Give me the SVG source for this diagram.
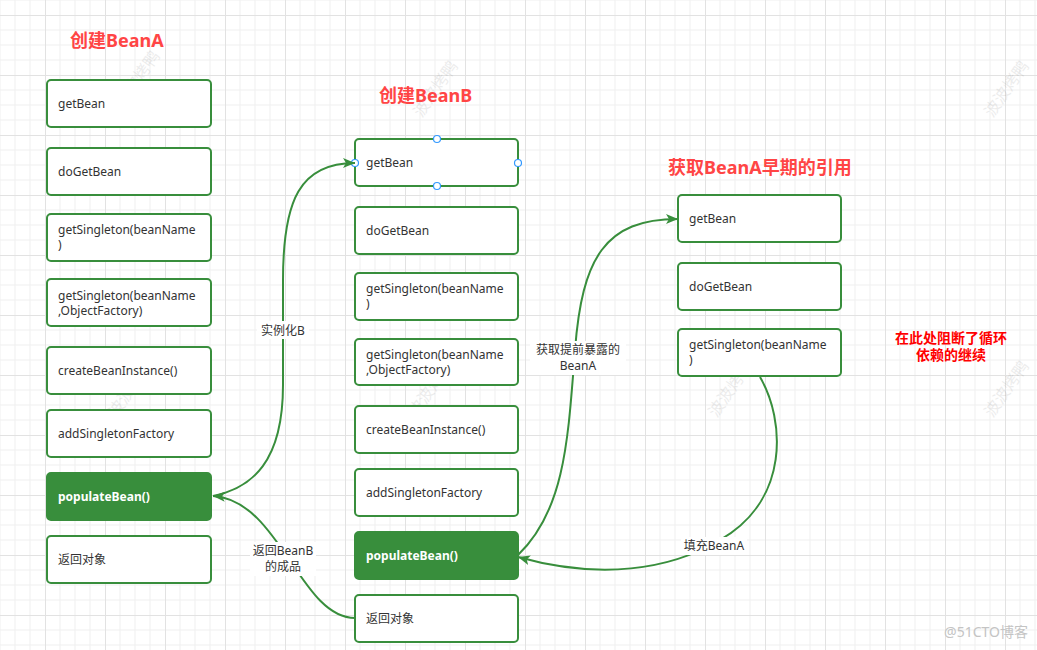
<svg xmlns="http://www.w3.org/2000/svg" width="1037" height="650" viewBox="0 0 1037 650">
<defs>
<pattern id="grid" x="45" y="15" width="60" height="60" patternUnits="userSpaceOnUse">
<path d="M15 0V60M30 0V60M45 0V60M0 15H60M0 30H60M0 45H60" stroke="#efefef" stroke-width="1" fill="none"/>
<path d="M0.5 0V60M0 0.5H60" stroke="#e2e2e2" stroke-width="1" fill="none"/>
</pattern>
<marker id="arr" markerUnits="userSpaceOnUse" markerWidth="14" markerHeight="12" refX="12" refY="5" orient="auto">
<path d="M0,0 L12,5 L0,10 L3,5 Z" fill="#388E3C"/>
</marker>
</defs>
<style>
.box{fill:#fff;stroke:#388E3C;stroke-width:2}
.fill{fill:#388E3C;stroke:#388E3C;stroke-width:2}
.t{font-family:"Noto Sans","Noto Sans CJK SC",sans-serif;font-size:12px;fill:#333}
.tw{font-family:"Noto Sans","Noto Sans CJK SC",sans-serif;font-size:12px;fill:#fff;font-weight:bold}
.title{font-family:"Noto Sans","Noto Sans CJK SC",sans-serif;font-size:18px;font-weight:bold;fill:#ff4545}
.note{font-family:"Noto Sans","Noto Sans CJK SC",sans-serif;font-size:14px;font-weight:bold;fill:#ff0000;text-anchor:middle}
.lbl{font-family:"Noto Sans","Noto Sans CJK SC",sans-serif;font-size:12px;fill:#333;text-anchor:middle}
.edge{fill:none;stroke:#388E3C;stroke-width:2}
.wm{font-family:"Noto Sans CJK SC",sans-serif;font-size:16px;fill:#000;opacity:0.07;text-anchor:middle}
.h{fill:#fff;stroke:#3399ff;stroke-width:1.2}
</style>
<rect width="1037" height="650" fill="#fff"/>
<rect width="1037" height="650" fill="url(#grid)"/>

<g id="watermarks">
<text class="wm" transform="translate(142,82) rotate(-55)">波波烤鸭</text>
<text class="wm" transform="translate(440,92) rotate(-55)">波波烤鸭</text>
<text class="wm" transform="translate(1011,92) rotate(-55)">波波烤鸭</text>
<text class="wm" transform="translate(135,392) rotate(-55)">波波烤鸭</text>
<text class="wm" transform="translate(435,392) rotate(-55)">波波烤鸭</text>
<text class="wm" transform="translate(735,392) rotate(-55)">波波烤鸭</text>
<text class="wm" transform="translate(1011,392) rotate(-55)">波波烤鸭</text>
</g>

<g id="titles">
<text class="title" x="70" y="47">创建BeanA</text>
<text class="title" x="379" y="102">创建BeanB</text>
<text class="title" x="668" y="174">获取BeanA早期的引用</text>
</g>

<g id="note">
<text class="note" x="951" y="343">在此处阻断了循环</text>
<text class="note" x="951" y="360">依赖的继续</text>
</g>

<g id="a-getBean"><rect class="box" x="47" y="80" width="164" height="47" rx="4"/><text class="t" x="58" y="108">getBean</text></g>
<g id="a-doGetBean"><rect class="box" x="47" y="148" width="164" height="47" rx="4"/><text class="t" x="58" y="176">doGetBean</text></g>
<g id="a-getSingleton1"><rect class="box" x="47" y="214" width="164" height="47" rx="4"/><text class="t" x="58" y="234">getSingleton(beanName</text><text class="t" x="58" y="249">)</text></g>
<g id="a-getSingleton2"><rect class="box" x="47" y="279" width="164" height="47" rx="4"/><text class="t" x="58" y="300">getSingleton(beanName</text><text class="t" x="58" y="315">,ObjectFactory)</text></g>
<g id="a-createBeanInstance"><rect class="box" x="47" y="347" width="164" height="47" rx="4"/><text class="t" x="58" y="375">createBeanInstance()</text></g>
<g id="a-addSingletonFactory"><rect class="box" x="47" y="410" width="164" height="47" rx="4"/><text class="t" x="58" y="438">addSingletonFactory</text></g>
<g id="a-populateBean"><rect class="fill" x="47" y="473" width="164" height="47" rx="4"/><text class="tw" x="58" y="501">populateBean()</text></g>
<g id="a-return"><rect class="box" x="47" y="536" width="164" height="47" rx="4"/><text class="t" x="58" y="564">返回对象</text></g>

<g id="b-getBean"><rect class="box" x="355" y="139" width="163" height="47" rx="4"/><text class="t" x="366" y="167">getBean</text>
<circle class="h" cx="437" cy="139" r="3.5"/><circle class="h" cx="437" cy="186" r="3.5"/><circle class="h" cx="355" cy="163" r="3.5"/><circle class="h" cx="518" cy="163" r="3.5"/></g>
<g id="b-doGetBean"><rect class="box" x="355" y="207" width="163" height="47" rx="4"/><text class="t" x="366" y="235">doGetBean</text></g>
<g id="b-getSingleton1"><rect class="box" x="355" y="273" width="163" height="47" rx="4"/><text class="t" x="366" y="293">getSingleton(beanName</text><text class="t" x="366" y="308">)</text></g>
<g id="b-getSingleton2"><rect class="box" x="355" y="339" width="163" height="46" rx="4"/><text class="t" x="366" y="359">getSingleton(beanName</text><text class="t" x="366" y="374">,ObjectFactory)</text></g>
<g id="b-createBeanInstance"><rect class="box" x="355" y="406" width="163" height="47" rx="4"/><text class="t" x="366" y="434">createBeanInstance()</text></g>
<g id="b-addSingletonFactory"><rect class="box" x="355" y="469" width="163" height="47" rx="4"/><text class="t" x="366" y="497">addSingletonFactory</text></g>
<g id="b-populateBean"><rect class="fill" x="355" y="532" width="163" height="47" rx="4"/><text class="tw" x="366" y="560">populateBean()</text></g>
<g id="b-return"><rect class="box" x="355" y="595" width="163" height="47" rx="4"/><text class="t" x="366" y="623">返回对象</text></g>

<g id="c-getBean"><rect class="box" x="678" y="195" width="163" height="47" rx="4"/><text class="t" x="689" y="223">getBean</text></g>
<g id="c-doGetBean"><rect class="box" x="678" y="263" width="163" height="47" rx="4"/><text class="t" x="689" y="291">doGetBean</text></g>
<g id="c-getSingleton"><rect class="box" x="678" y="329" width="163" height="47" rx="4"/><text class="t" x="689" y="349">getSingleton(beanName</text><text class="t" x="689" y="364">)</text></g>

<g id="connectors">
<path class="edge" marker-end="url(#arr)" d="M213,496 C252,488 283,462 283,385 L283,280 C283,200 300,163 355,163"/>
<path class="edge" marker-end="url(#arr)" d="M355,618 C300,618 280,500 213,496"/>
<path class="edge" marker-end="url(#arr)" d="M518,555 C565,510 568,440 575,350 C582,258 605,219 678,219"/>
<path class="edge" marker-end="url(#arr)" d="M760,377 C785,420 790,500 720,540 C670,570 600,580 518,557"/>
<rect x="257" y="321" width="52" height="18" fill="#fff"/>
<text class="lbl" x="283" y="335">实例化B</text>
<rect x="250" y="542" width="66" height="34" fill="#fff"/>
<text class="lbl" x="283" y="555">返回BeanB</text>
<text class="lbl" x="283" y="571">的成品</text>
<rect x="530" y="341" width="96" height="34" fill="#fff"/>
<text class="lbl" x="578" y="354">获取提前暴露的</text>
<text class="lbl" x="578" y="370">BeanA</text>
<rect x="681" y="537" width="66" height="18" fill="#fff"/>
<text class="lbl" x="714" y="550">填充BeanA</text>
</g>

<text x="1028" y="637" font-family="Noto Sans, Noto Sans CJK SC, sans-serif" font-size="14" fill="#c4c4c4" text-anchor="end">@51CTO博客</text>
</svg>
